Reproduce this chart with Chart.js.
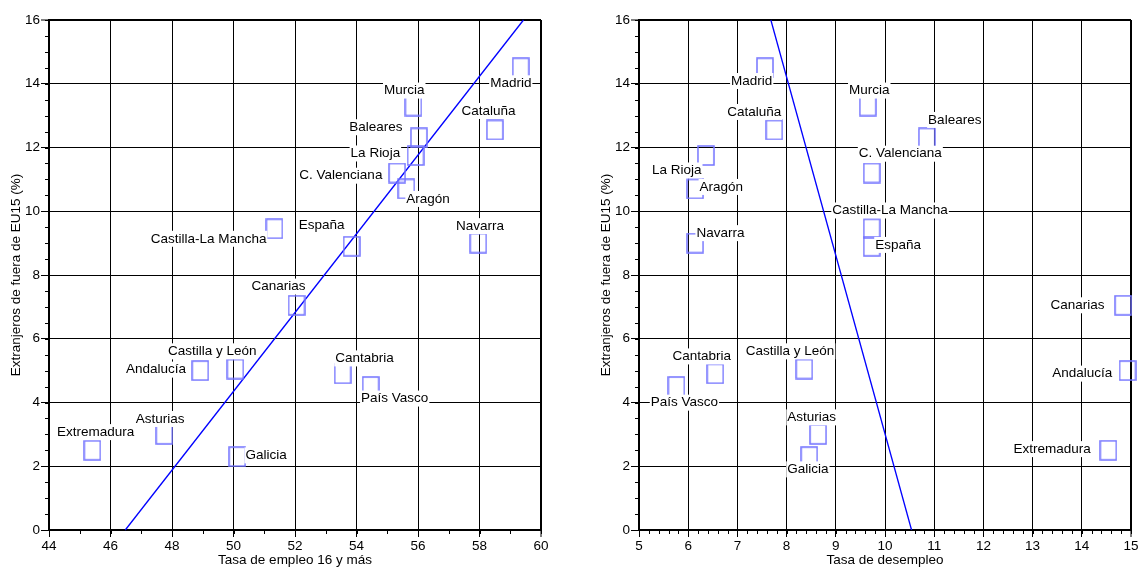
<!DOCTYPE html>
<html>
<head>
<meta charset="utf-8">
<script src="https://cdn.jsdelivr.net/npm/chart.js@4.4.1/dist/chart.umd.min.js"></script>
<style>
    html, body { margin: 0; padding: 0; background: #fff; overflow: hidden; }
    #employChart { position: absolute; left: 0; top: 0; }
    #unemployChart { position: absolute; left: 580px; top: 0; }
</style>
</head>
<body>
<canvas id="employChart" width="580" height="568"></canvas>
<canvas id="unemployChart" width="561" height="568"></canvas>
<script>
// Data
const regions = ['Madrid', 'Murcia', 'Cataluña', 'Baleares', 'La Rioja', 'C. Valenciana', 'Aragón',
    'Castilla-La Mancha', 'España', 'Navarra', 'Canarias', 'Castilla y León', 'Andalucía',
    'Cantabria', 'País Vasco', 'Asturias', 'Extremadura', 'Galicia'];
const foreignShare = [14.5, 13.3, 12.55, 12.3, 11.75, 11.2, 10.7, 9.45, 8.9, 9.0, 7.05, 5.05, 5.0, 4.9, 4.5, 3.0, 2.5, 2.3];
const employmentRate = [59.34, 55.85, 58.5, 56.03, 55.92, 55.32, 55.62, 51.33, 53.84, 57.96, 52.05, 50.06, 48.92, 53.55, 54.46, 47.75, 45.41, 50.12];
const unemploymentRate = [7.56, 9.65, 7.75, 10.85, 6.36, 9.73, 6.14, 9.73, 9.73, 6.14, 14.84, 8.36, 14.93, 6.55, 5.76, 8.64, 14.54, 8.46];

// Fitted lines (end points)
const employFitX = [46.48, 59.43];
const employFitY = [0, 16];
const unemployFitX = [7.68, 10.54];
const unemployFitY = [16, 0];

// Label placement: [dx, dy, align] relative to each marker
const employLabelPos = [
    [10.7, 15.5, 'right'], [11.1, -15.5, 'right'], [-6.4, -19, 'center'], [-16.5, -10.7, 'right'],
    [-15.4, -2, 'right'], [-14.7, 2.7, 'right'], [0, 10, 'left'], [-8, 10, 'right'],
    [-7.1, -21, 'right'], [1.8, -17, 'center'], [8.9, -18.7, 'right'], [21.2, -17.7, 'right'],
    [-14.3, -1, 'right'], [-7.4, -15.4, 'left'], [-9.6, 12, 'left'], [20.2, -15.4, 'right'],
    [3.3, -18.2, 'center'], [8.2, -1.3, 'left']
];
const unemployLabelPos = [
    [7.4, 13.2, 'right'], [1.5, -15.5, 'center'], [6.9, -18, 'right'], [1.3, -18, 'left'],
    [-4.4, 15, 'right'], [-12.9, -19.3, 'left'], [4.5, -2, 'left'], [-39.4, -18.3, 'left'],
    [3.5, -1.4, 'left'], [1.3, -10, 'left'], [-18.7, 0, 'right'], [30, -17.7, 'right'],
    [-15.3, 3, 'right'], [15.7, -17.4, 'right'], [-25.6, 16.1, 'left'], [18, -17, 'right'],
    [-17.6, -1.2, 'right'], [-22, 12.7, 'left']
];

const FONT_FAMILY = '"Liberation Sans", Arial, sans-serif';
const FONT_SIZE = 13.5;
const MARKER_COLOR = '#7474ff';
const LINE_COLOR = '#0000ff';

Chart.defaults.font.family = FONT_FAMILY;
Chart.defaults.font.size = FONT_SIZE;
Chart.defaults.color = '#000';

// hollow rectangle used as point style
function makeMarker() {
    const c = document.createElement('canvas');
    c.width = 18;
    c.height = 21;
    const g = c.getContext('2d');
    g.strokeStyle = MARKER_COLOR;
    g.lineWidth = 1.5;
    g.strokeRect(1, 1, 16, 19);
    return c;
}
const marker = makeMarker();

// Labels with white background next to each marker
const pointLabels = {
    id: 'pointLabels',
    afterDatasetsDraw(chart, args, opts) {
        const meta = chart.getDatasetMeta(0);
        const ctx = chart.ctx;
        ctx.save();
        ctx.font = FONT_SIZE + 'px ' + FONT_FAMILY;
        ctx.textBaseline = 'middle';
        ctx.textAlign = 'left';
        meta.data.forEach((pt, i) => {
            const [dx, dy, align] = opts.positions[i];
            const text = regions[i];
            const w = ctx.measureText(text).width;
            const ax = pt.x + dx;
            const left = align === 'right' ? ax - w : align === 'center' ? ax - w / 2 : ax;
            const y = pt.y + dy;
            ctx.fillStyle = '#fff';
            ctx.fillRect(left - 1, y - 8, w + 2, 16);
            ctx.fillStyle = '#000';
            ctx.fillText(text, left, y);
        });
        ctx.restore();
    }
};

// Short minor tick marks on both axes
const minorTicks = {
    id: 'minorTicks',
    afterDraw(chart, args, opts) {
        const {x, y} = chart.scales;
        const ctx = chart.ctx;
        ctx.save();
        ctx.strokeStyle = '#000';
        ctx.lineWidth = 1;
        ctx.beginPath();
        const nx = Math.round((x.max - x.min) / opts.xStep);
        for (let i = 0; i <= nx; i++) {
            const px = Math.round(x.getPixelForValue(x.min + i * opts.xStep)) + 0.5;
            ctx.moveTo(px, y.bottom);
            ctx.lineTo(px, y.bottom + opts.len);
        }
        const ny = Math.round((y.max - y.min) / opts.yStep);
        for (let i = 0; i <= ny; i++) {
            const py = Math.round(y.getPixelForValue(y.min + i * opts.yStep)) + 0.5;
            ctx.moveTo(x.left - opts.len, py);
            ctx.lineTo(x.left, py);
        }
        ctx.stroke();
        ctx.restore();
    }
};

function buildChart(canvasId, xValues, fitX, fitY, cfg) {
    const points = xValues.map((v, i) => ({x: v, y: foreignShare[i]}));
    const fit = fitX.map((v, i) => ({x: v, y: fitY[i]}));

    return new Chart(document.getElementById(canvasId), {
        type: 'scatter',
        data: {
            datasets: [{
                data: points,
                pointStyle: marker,
                pointRadius: 8,
                clip: false
            }, {
                data: fit,
                showLine: true,
                borderColor: LINE_COLOR,
                borderWidth: 1.3,
                pointRadius: 0,
                clip: false
            }]
        },
        options: {
            responsive: false,
            animation: false,
            events: [],
            layout: { padding: { top: 20, left: cfg.padLeft, right: cfg.padRight, bottom: 0 } },
            plugins: {
                legend: { display: false },
                tooltip: { enabled: false },
                pointLabels: { positions: cfg.labelPos },
                minorTicks: { xStep: cfg.minorX, yStep: 0.5, len: 4 }
            },
            scales: {
                x: {
                    type: 'linear',
                    min: cfg.xMin,
                    max: cfg.xMax,
                    afterFit: s => { s.height = 38; },
                    ticks: { stepSize: cfg.xStep, padding: 1, maxRotation: 0, autoSkip: false, color: '#000' },
                    grid: {
                        color: '#000',
                        lineWidth: c => (c.tick && c.tick.value === cfg.xMax ? 2 : 1),
                        tickLength: 7,
                        tickColor: '#000',
                        tickWidth: 1
                    },
                    border: { color: '#000', width: 2 },
                    title: { display: true, text: cfg.xTitle, color: '#000', padding: { top: 0, bottom: 0 } }
                },
                y: {
                    min: 0,
                    max: 16,
                    afterFit: s => { s.width = 49; },
                    ticks: { stepSize: 2, padding: 1, color: '#000' },
                    grid: {
                        color: '#000',
                        lineWidth: c => (c.tick && c.tick.value === 16 ? 2 : 1),
                        tickLength: 8,
                        tickColor: '#000',
                        tickWidth: 1
                    },
                    border: { color: '#000', width: 2 },
                    title: { display: true, text: 'Extranjeros de fuera de EU15 (%)', color: '#000', padding: { top: 8, bottom: 0 } }
                }
            }
        },
        plugins: [pointLabels, minorTicks]
    });
}

buildChart('employChart', employmentRate, employFitX, employFitY, {
    xMin: 44, xMax: 60, xStep: 2, minorX: 1,
    xTitle: 'Tasa de empleo 16 y más',
    padLeft: 0, padRight: 39,
    labelPos: employLabelPos
});

buildChart('unemployChart', unemploymentRate, unemployFitX, unemployFitY, {
    xMin: 5, xMax: 15, xStep: 1, minorX: 0.2,
    xTitle: 'Tasa de desempleo',
    padLeft: 10, padRight: 10,
    labelPos: unemployLabelPos
});
</script>
</body>
</html>
